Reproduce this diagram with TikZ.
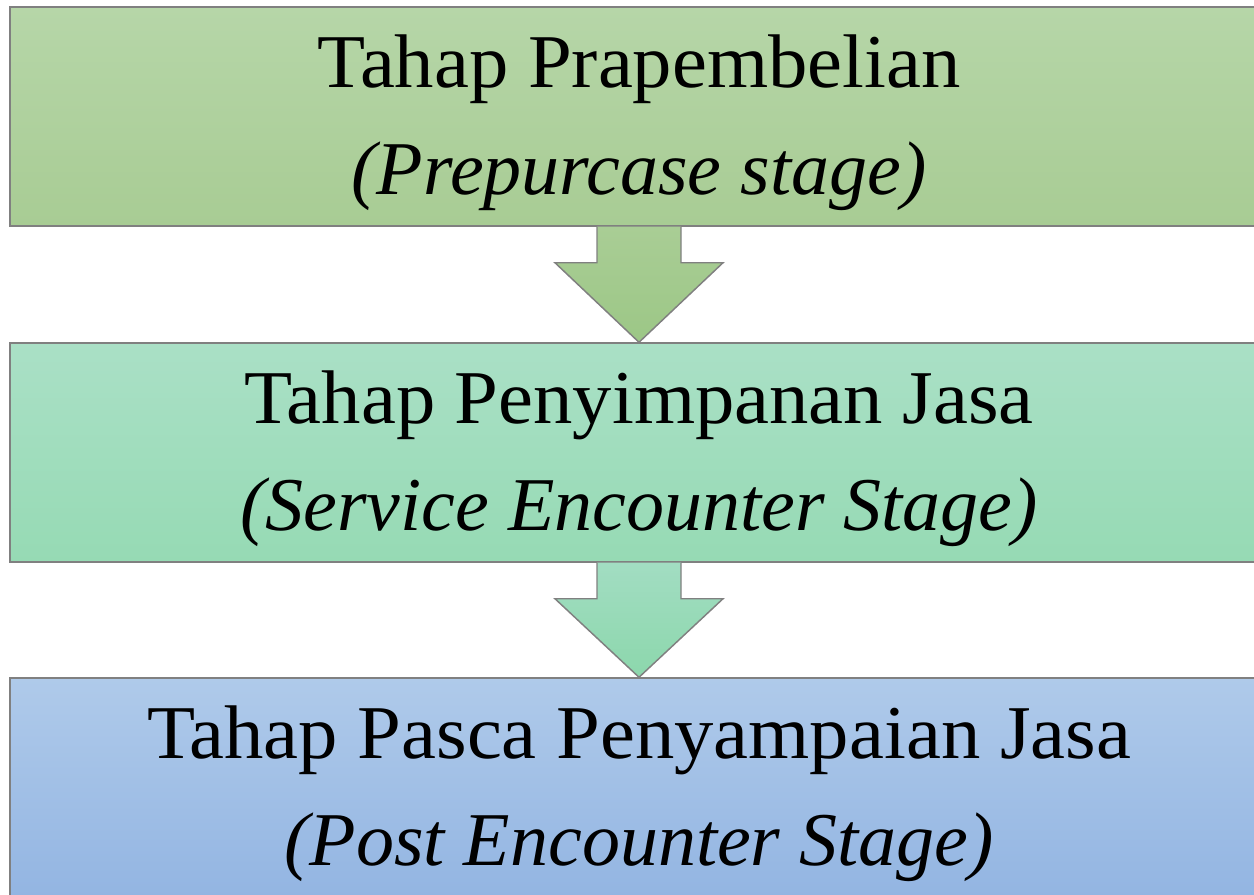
\documentclass[tikz,border=0pt]{standalone}
\usepackage{fontspec}
\setmainfont{Liberation Serif}
\newfontfamily\wideserif[FakeStretch=1.035]{Liberation Serif}
\usetikzlibrary{calc}
\definecolor{gA}{HTML}{B6D6A8}
\definecolor{gB}{HTML}{A8CC94}
\definecolor{tA}{HTML}{AAE0C6}
\definecolor{tB}{HTML}{96DAB4}
\definecolor{bA}{HTML}{AFCAEA}
\definecolor{bB}{HTML}{93B5E2}
\definecolor{agA}{HTML}{A9CD95}
\definecolor{agB}{HTML}{9CC786}
\definecolor{atA}{HTML}{A2DDC2}
\definecolor{atB}{HTML}{8CD7AC}
\definecolor{edge}{HTML}{808080}
\tikzset{
  stagebox/.style={draw=edge, line width=1.1pt, minimum width=943.5pt, minimum height=164.25pt, inner sep=0pt},
  stagetext/.style={anchor=base, inner sep=0pt, font=\fontsize{57}{68}\selectfont},
  downarrow/.style={draw=edge, line width=1.1pt, line join=miter}
}
\begin{document}
\begin{tikzpicture}[x=0.75pt, y=-0.75pt]
\useasboundingbox (0,0) rectangle (1254,894);
\clip (0,0) rectangle (1254,894);
\node[stagebox, top color=gA, bottom color=gB] (b1) at (639,116.5) {};
\node[stagebox, top color=tA, bottom color=tB] (b2) at (639,452.5) {};
\node[stagebox, top color=bA, bottom color=bB] (b3) at (639,787.5) {};
% arrows
\path[downarrow, top color=agA, bottom color=agB]
  ($(b1.south)+(-42,0)$) -- ($(b1.south)+(-42,36)$) -- ($(b1.south)+(-84,36)$)
  -- (b2.north) -- ($(b1.south)+(84,36)$) -- ($(b1.south)+(42,36)$) -- ($(b1.south)+(42,0)$);
\path[downarrow, top color=atA, bottom color=atB]
  ($(b2.south)+(-42,0)$) -- ($(b2.south)+(-42,36)$) -- ($(b2.south)+(-84,36)$)
  -- (b3.north) -- ($(b2.south)+(84,36)$) -- ($(b2.south)+(42,36)$) -- ($(b2.south)+(42,0)$);
% texts
\node[stagetext] (t1a) at ($(b1.north)+(0,81)$) {\wideserif Tahap Prapembelian};
\node[stagetext] (t1b) at ($(b1.north)+(0,188)$) {\itshape (Prepurcase stage)};
\node[stagetext] (t2a) at ($(b2.north)+(0,81)$) {\wideserif Tahap Penyimpanan Jasa};
\node[stagetext] (t2b) at ($(b2.north)+(0,188)$) {\itshape (Service Encounter Stage)};
\node[stagetext] (t3a) at ($(b3.north)+(0,81)$) {\wideserif Tahap Pasca Penyampaian Jasa};
\node[stagetext] (t3b) at ($(b3.north)+(0,188)$) {\itshape (Post Encounter Stage)};
\end{tikzpicture}
\end{document}
